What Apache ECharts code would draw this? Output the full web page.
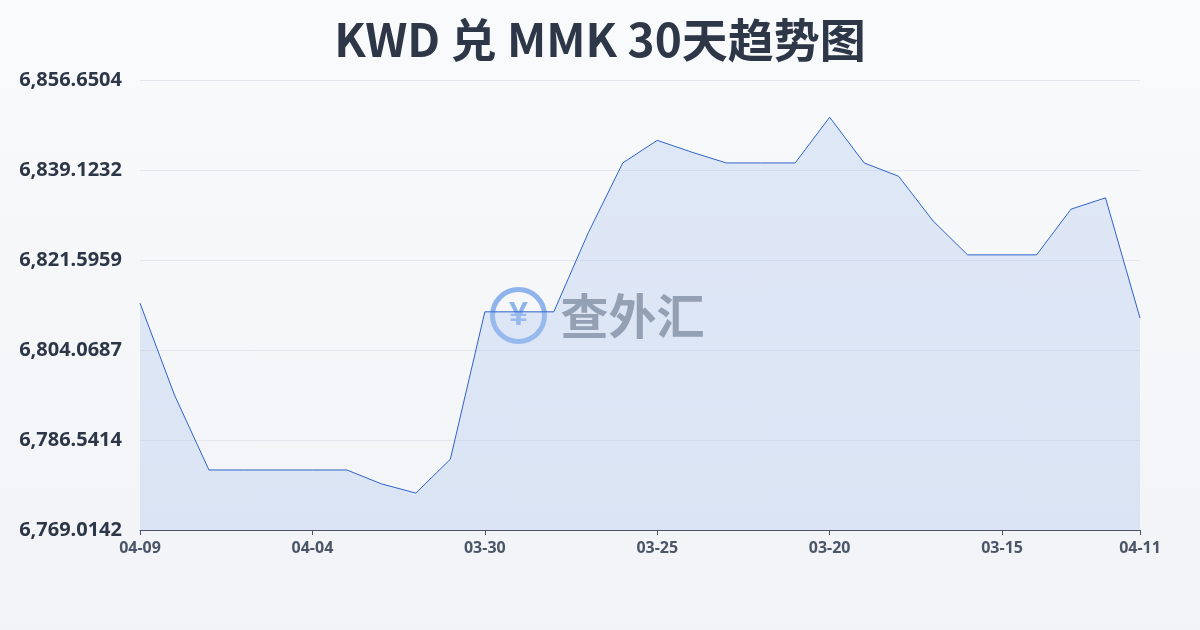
<!DOCTYPE html>
<html>
<head>
<meta charset="utf-8">
<script src="https://cdn.jsdelivr.net/npm/echarts@6/dist/echarts.min.js"></script>
<style>
  html, body { margin: 0; padding: 0; }
  #main { width: 1200px; height: 630px; background: linear-gradient(#f9fafb, #f1f3f6); }
</style>
</head>
<body>
<div id="main"></div>
<script>
var dates = ['04-09','04-08','04-07','04-06','04-05','04-04','04-03','04-02','04-01','03-31',
  '03-30','03-29','03-28','03-27','03-26','03-25','03-24','03-23','03-22','03-21',
  '03-20','03-19','03-18','03-17','03-16','03-15','03-14','03-13','03-12','04-11'];
var rates = [6813.2, 6795.3, 6780.7, 6780.7, 6780.7, 6780.7, 6780.7, 6778.0, 6776.2, 6782.8,
  6811.5, 6811.5, 6811.5, 6826.9, 6840.5, 6844.9, 6842.6, 6840.5, 6840.5, 6840.5,
  6849.4, 6840.5, 6837.9, 6829.2, 6822.6, 6822.6, 6822.6, 6831.5, 6833.7, 6810.3];
var yMin = 6769.0142, yMax = 6856.6504;

var chart = echarts.init(document.getElementById('main'));

var option = {
  title: {
    text: 'KWD 兑 MMK 30天趋势图',
    left: 'center',
    top: 12,
    textStyle: { fontSize: 46, fontWeight: 'bold', color: '#2d3748', fontFamily: 'Noto Sans CJK SC' }
  },
  graphic: [
    {
      type: 'group', left: 490, top: 287,
      children: [
        { type: 'circle', shape: { cx: 28, cy: 28, r: 26 }, style: { fill: 'none', stroke: '#8fb4ec', lineWidth: 5 } },
        { type: 'text', style: { x: 28, y: 28, text: '¥', fontSize: 34, fontWeight: 'bold', fill: '#8fb4ec', align: 'center', verticalAlign: 'middle' } },
        { type: 'text', style: { x: 70, y: 28, text: '查外汇', fontSize: 48, fontWeight: 'bold', fill: '#8a9099', verticalAlign: 'middle', fontFamily: 'Noto Sans CJK SC' } }
      ],
      z: 10
    }
  ],
  grid: { left: 140, right: 60, top: 80, bottom: 100 },
  xAxis: {
    type: 'category',
    boundaryGap: false,
    data: dates,
    axisLine: { lineStyle: { color: '#4a5568' } },
    axisTick: {
      lineStyle: { color: '#4a5568' },
      interval: function (i) { return i % 5 === 0 || i === dates.length - 1; }
    },
    axisLabel: {
      color: '#4a5568', fontSize: 16, fontWeight: 'bold', margin: 10, fontFamily: 'Noto Sans',
      interval: function (i) { return i % 5 === 0 || i === dates.length - 1; }
    }
  },
  yAxis: {
    type: 'value',
    min: yMin,
    max: yMax,
    interval: (yMax - yMin) / 5,
    axisLine: { show: false },
    axisTick: { show: false },
    splitLine: { lineStyle: { color: '#e2e6ec' } },
    axisLabel: {
      color: '#2d3748', fontSize: 20, fontWeight: 'bold', margin: 18, fontFamily: 'Noto Sans',
      formatter: function (v) {
        return v.toLocaleString('en-US', { minimumFractionDigits: 4, maximumFractionDigits: 4 });
      }
    }
  },
  series: [
    {
      type: 'line',
      data: rates,
      symbol: 'none',
      lineStyle: { color: '#2f62c8', width: 1 },
      areaStyle: { color: 'rgba(170,195,240,0.45)' }
    }
  ]
};

chart.setOption(option);
</script>
</body>
</html>
